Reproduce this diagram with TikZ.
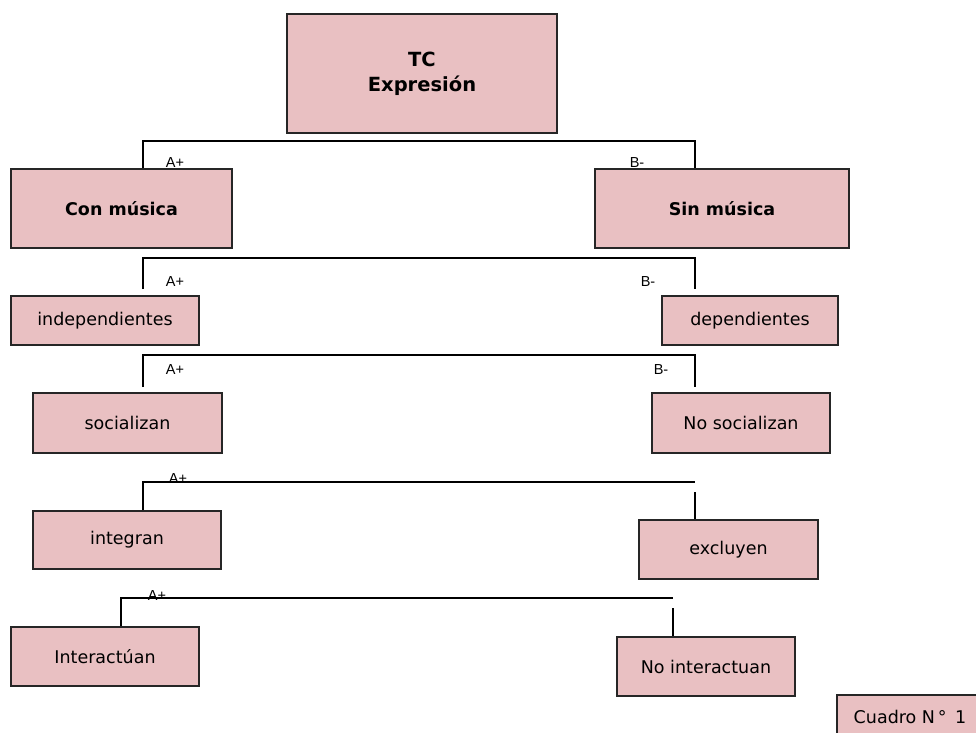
\documentclass[tikz,border=0pt]{standalone}
\usepackage{fontspec}
\setmainfont{DejaVu Sans}
\newfontfamily\labfont{Liberation Sans}
\definecolor{boxpink}{RGB}{233,192,194}
\begin{document}
\begin{tikzpicture}[x=1pt,y=-1pt,
  box/.style={draw=black!85, line width=1.4pt, fill=boxpink, inner sep=0pt,
    font=\fontsize{17.5}{21}\selectfont, align=center},
  boldbox/.style={box, font=\bfseries\fontsize{17.5}{21}\selectfont},
  conn/.style={draw=black, line width=1.15pt},
  lab/.style={font=\labfont\fontsize{14.5}{15}\selectfont, inner sep=0pt}]
\useasboundingbox (0,0) rectangle (976,732);
\clip (0,0) rectangle (976,732);
\fill[white] (0,0) rectangle (976,732);

% labels (behind boxes)
\node[lab] (l1a) at (175,163) {A+};
\node[lab] (l1b) at (637,163) {B-};
\node[lab] (l2a) at (175,282) {A+};
\node[lab] (l2b) at (648,282) {B-};
\node[lab] (l3a) at (175,370) {A+};
\node[lab] (l3b) at (661,370) {B-};
\node[lab] (l4a) at (178,478) {A+};
\node[lab] (l5a) at (157,595) {A+};

% boxes
\node[box, minimum width=270pt, minimum height=119pt,
  font=\bfseries\fontsize{19.5}{25}\selectfont] (tc) at (422,73.5) {TC\\Expresión};
\node[boldbox, minimum width=221pt, minimum height=79pt] (con) at (121.5,208.5) {Con música};
\node[boldbox, minimum width=254pt, minimum height=79pt] (sin) at (722,208.5) {Sin música};
\node[box, minimum width=188pt, minimum height=49pt] (indep) at (105,320.5) {independientes};
\node[box, minimum width=176pt, minimum height=49pt] (dep) at (750,320.5) {dependientes};
\node[box, minimum width=189pt, minimum height=60pt] (soc) at (127.5,423) {socializan};
\node[box, minimum width=178pt, minimum height=60pt] (nosoc) at (741,423) {No socializan};
\node[box, minimum width=188pt, minimum height=58pt] (integ) at (127,540) {integran};
\node[box, minimum width=179pt, minimum height=59pt] (excl) at (728.5,549.5) {excluyen};
\node[box, minimum width=188pt, minimum height=59pt] (inter) at (105,656.5) {Interactúan};
\node[box, minimum width=178pt, minimum height=59pt] (nointer) at (706,666.5) {No interactuan};
\node[box, minimum width=146pt, minimum height=44pt] (cuadro) at (910,717) {Cuadro N\,°\, 1};

% connector coordinates
\coordinate (h1l) at (143,141);
\coordinate (h1r) at (695,141);
\coordinate (h2l) at (143,258);
\coordinate (h2r) at (695,258);
\coordinate (e2l) at (143,289);
\coordinate (e2r) at (695,289);
\coordinate (h3l) at (143,355);
\coordinate (h3r) at (695,355);
\coordinate (e3l) at (143,387);
\coordinate (e3r) at (695,387);
\coordinate (h4l) at (143,482);
\coordinate (h4r) at (695,482);
\coordinate (s4r) at (695,492);
\coordinate (h5l) at (121,598);
\coordinate (h5r) at (673,598);
\coordinate (s5r) at (673,608);

% connectors
\draw[conn] (con.north -| h1l) -- (h1l) -- (h1r) -- (sin.north -| h1r);
\draw[conn] (e2l) -- (h2l) -- (h2r) -- (e2r);
\draw[conn] (e3l) -- (h3l) -- (h3r) -- (e3r);
\draw[conn] (integ.north -| h4l) -- (h4l) -- (h4r);
\draw[conn] (s4r) -- (excl.north -| s4r);
\draw[conn] (inter.north -| h5l) -- (h5l) -- (h5r);
\draw[conn] (s5r) -- (nointer.north -| s5r);
\end{tikzpicture}
\end{document}
